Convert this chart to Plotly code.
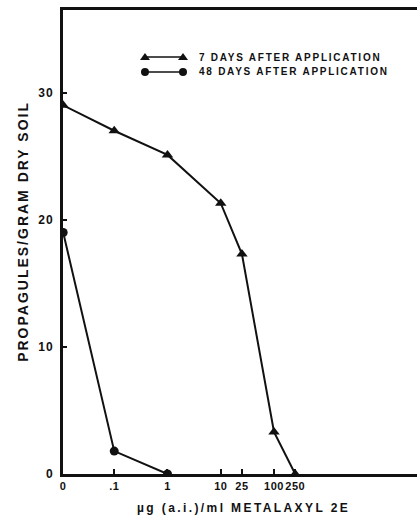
import plotly.graph_objects as go

# ---- data ----
dose_labels = ["0", ".1", "1", "10", "25", "100", "250"]
dose_7 = [0, 0.1, 1, 10, 25, 100, 250]
prop_7 = [29.0, 27.0, 25.1, 21.3, 17.3, 3.3, 0.0]
dose_48 = [0, 0.1, 1]
prop_48 = [19.0, 1.8, 0.0]
y_ticks = [0, 10, 20, 30]
series_names = ["7 DAYS AFTER APPLICATION", "48 DAYS AFTER APPLICATION"]

ZERO_ON_LOG = 0.011  # where the "0" dose sits on the log dose axis


def to_axis(d):
    return [v if v > 0 else ZERO_ON_LOG for v in d]


tick_vals = to_axis(dose_7)

BLACK = "#111111"
FONT = "Liberation Sans, Arial, sans-serif"


def spaced(t, s):
    return f'<span style="letter-spacing:{s}px">{t}</span>'


fig = go.Figure()
fig.add_trace(go.Scatter(
    x=to_axis(dose_7), y=prop_7, mode="lines+markers", name=series_names[0],
    line=dict(color=BLACK, width=2),
    marker=dict(symbol="triangle-up", size=10, color=BLACK),
))
fig.add_trace(go.Scatter(
    x=to_axis(dose_48), y=prop_48, mode="lines+markers", name=series_names[1],
    line=dict(color=BLACK, width=2),
    marker=dict(symbol="circle", size=9, color=BLACK),
))

# ---- hand-made legend (marker at both ends of a short line) ----
leg_rows = [0.8987, 0.8664]
leg_x0, leg_x1, leg_tx = 0.2316, 0.3390, 0.3785
tri = "M-5,-3 L5,-3 L0,4 Z"
shapes = []
annotations = []
for i, yy in enumerate(leg_rows):
    shapes.append(dict(type="line", xref="paper", yref="paper",
                       x0=leg_x0, x1=leg_x1, y0=yy, y1=yy,
                       line=dict(color=BLACK, width=1.6)))
    for xa in (leg_x0, leg_x1):
        if i == 0:
            shapes.append(dict(type="path", xref="paper", yref="paper",
                               xsizemode="pixel", ysizemode="pixel",
                               xanchor=xa, yanchor=yy, path=tri,
                               fillcolor=BLACK, line=dict(width=0)))
        else:
            shapes.append(dict(type="circle", xref="paper", yref="paper",
                               xsizemode="pixel", ysizemode="pixel",
                               xanchor=xa, yanchor=yy,
                               x0=-4, x1=4, y0=-4, y1=4,
                               fillcolor=BLACK, line=dict(width=0)))
    annotations.append(dict(text=spaced(series_names[i], 1.75),
                            xref="paper", yref="paper", x=leg_tx, y=yy,
                            xanchor="left", yanchor="middle", showarrow=False,
                            font=dict(family=FONT, size=10, color=BLACK,
                                      weight="bold")))

annotations += [
    dict(text=spaced("PROPAGULES/GRAM DRY SOIL", 2),
         xref="paper", yref="paper", x=-0.113, y=0.524, textangle=-90,
         showarrow=False, xanchor="center", yanchor="middle",
         font=dict(family=FONT, size=14, color=BLACK, weight="bold")),
    dict(text=spaced("µg (a.i.)/ml METALAXYL 2E", 2.4),
         xref="paper", yref="paper", x=0.511, y=-0.0733,
         showarrow=False, xanchor="center", yanchor="middle",
         font=dict(family=FONT, size=12, color=BLACK, weight="bold")),
]

fig.update_layout(
    width=417, height=516, autosize=False,
    margin=dict(l=63, r=0, t=10, b=42, autoexpand=False),
    paper_bgcolor="white", plot_bgcolor="white",
    font=dict(family=FONT, color=BLACK, size=12),
    showlegend=False,
    xaxis=dict(
        type="log", range=[-1.962, 4.685], automargin=False,
        tickvals=tick_vals, ticktext=[spaced(t, 0.5) for t in dose_labels],
        tickangle=0,
        ticks="inside", ticklen=5, tickwidth=1.5, tickcolor=BLACK,
        showline=True, linecolor=BLACK, linewidth=3, mirror=True,
        showgrid=False, zeroline=False,
        tickfont=dict(family=FONT, size=11, color=BLACK, weight="bold"),
    ),
    yaxis=dict(
        range=[0, 36.5], tickvals=y_ticks, automargin=False,
        ticktext=[spaced(str(t), 1) for t in y_ticks],
        ticks="inside", ticklen=4, tickwidth=1.5, tickcolor=BLACK,
        showline=True, linecolor=BLACK, linewidth=3, mirror=False,
        showgrid=False, zeroline=False, ticklabelstandoff=4,
        tickfont=dict(family=FONT, size=12, color=BLACK, weight="bold"),
    ),
    shapes=shapes,
    annotations=annotations,
)

fig.write_html(
    "out.html",
    config={"displayModeBar": False},
    post_script=("document.body.style.margin='0';"
                 "document.body.style.overflow='hidden';"
                 "document.documentElement.style.overflow='hidden';"),
)
